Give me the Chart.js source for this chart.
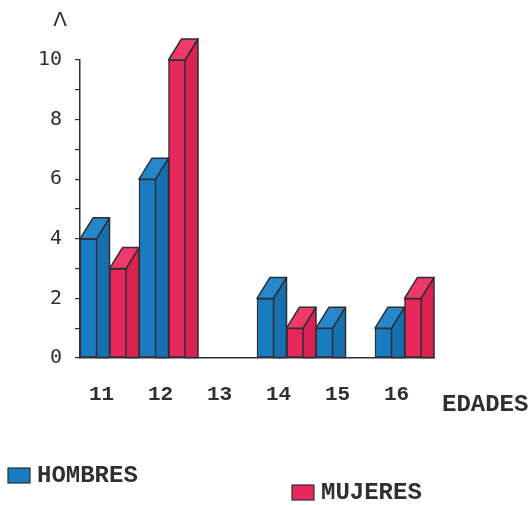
<!DOCTYPE html>
<html>
<head>
<meta charset="utf-8">
<script src="https://cdn.jsdelivr.net/npm/chart.js@4.4.1/dist/chart.umd.min.js"></script>
<style>
  html, body { margin: 0; padding: 0; background: #fff; }
  #wrap { width: 532px; height: 505px; }
</style>
</head>
<body>
<div id="wrap"><canvas id="c" width="532" height="505"></canvas></div>
<script>
// Ages on the horizontal axis and counts per sex
const edades = ['11', '12', '13', '14', '15', '16'];
const hombres = [4, 6, 0, 2, 1, 1];
const mujeres = [3, 10, 0, 1, 0, 2];
const yTickLabels = [0, 2, 4, 6, 8, 10];
const axisTitle = 'EDADES';
const yMark = 'Λ';

// Styling
const ink = '#2e2e34';
const palette = {
  HOMBRES: { front: '#1a7cc0', side: '#1670b0', top: '#2688cb' },
  MUJERES: { front: '#e8285c', side: '#da2252', top: '#ee3a6b' }
};
const depth = { dx: 13, dy: 21 };
const legendSpots = [ { x: 8, y: 468 }, { x: 292, y: 485 } ];
const typeFont = 'bold 24px "Liberation Mono"';

// Extrudes each bar into a box: side face on the right, lid on top
const box3d = {
  id: 'box3d',
  afterDatasetsDraw(chart) {
    const ctx = chart.ctx;
    chart.data.datasets.forEach((ds, di) => {
      const meta = chart.getDatasetMeta(di);
      const col = palette[ds.label];
      meta.data.forEach((bar, i) => {
        if (!ds.data[i]) return;
        const { x, y, base, width } = bar.getProps(['x', 'y', 'base', 'width'], true);
        const l = x - width / 2, r = x + width / 2;
        const fr = r - depth.dx, t = y - depth.dy;
        ctx.save();
        ctx.lineJoin = 'round';
        ctx.strokeStyle = ink;
        ctx.lineWidth = 1.5;
        ctx.beginPath();
        ctx.moveTo(fr, y); ctx.lineTo(r, t); ctx.lineTo(r, base); ctx.lineTo(fr, base);
        ctx.closePath();
        ctx.fillStyle = col.side; ctx.fill(); ctx.stroke();
        ctx.beginPath();
        ctx.moveTo(l, y); ctx.lineTo(l + depth.dx, t); ctx.lineTo(r, t); ctx.lineTo(fr, y);
        ctx.closePath();
        ctx.fillStyle = col.top; ctx.fill(); ctx.stroke();
        ctx.restore();
      });
    });
  }
};

// Axis captions and the two-entry key
const captions = {
  id: 'captions',
  afterDraw(chart) {
    const ctx = chart.ctx;
    const xs = chart.scales.x, ys = chart.scales.y;
    ctx.save();
    ctx.fillStyle = ink;
    ctx.textBaseline = 'middle';
    ctx.font = '20px "DejaVu Sans"';
    ctx.textAlign = 'center';
    ctx.fillText(yMark, ys.right - 20, ys.top - 39);
    ctx.font = typeFont;
    ctx.textAlign = 'left';
    ctx.fillText(axisTitle, xs.right + 8, xs.top + 47);
    chart.data.datasets.forEach((ds, di) => {
      const p = legendSpots[di];
      ctx.fillStyle = palette[ds.label].front;
      ctx.strokeStyle = ink;
      ctx.lineWidth = 1.2;
      ctx.fillRect(p.x, p.y, 22, 15);
      ctx.strokeRect(p.x, p.y, 22, 15);
      ctx.fillStyle = ink;
      ctx.fillText(ds.label, p.x + 29, p.y + 8);
    });
    ctx.restore();
  }
};

new Chart(document.getElementById('c'), {
  type: 'bar',
  data: {
    labels: edades,
    datasets: [
      { label: 'HOMBRES', data: hombres, backgroundColor: palette.HOMBRES.front,
        borderColor: ink, borderWidth: 1.5, borderSkipped: false, clip: false },
      { label: 'MUJERES', data: mujeres, backgroundColor: palette.MUJERES.front,
        borderColor: ink, borderWidth: 1.5, borderSkipped: false, clip: false }
    ]
  },
  options: {
    responsive: false,
    animation: false,
    devicePixelRatio: 1,
    layout: { padding: { top: 60, right: 98, bottom: 87, left: 0 } },
    datasets: { bar: { categoryPercentage: 1, barPercentage: 1 } },
    plugins: { legend: { display: false }, tooltip: { enabled: false } },
    scales: {
      x: {
        afterFit(s) { s.height = 60; },
        grid: { display: false, drawTicks: false },
        border: { display: true, color: ink, width: 1.5 },
        ticks: { padding: 24, labelOffset: -8, color: ink, maxRotation: 0, autoSkip: false,
                 font: { family: 'Liberation Mono', size: 21, weight: 'bold' } }
      },
      y: {
        min: 0, max: 10,
        afterFit(s) { s.width = 80; },
        grid: { drawOnChartArea: false, tickLength: 5, color: ink, lineWidth: 1.2 },
        border: { display: true, color: ink, width: 1.5 },
        ticks: { stepSize: 1, padding: 13, color: ink, autoSkip: false,
                 font: { family: 'DejaVu Sans Mono', size: 20 },
                 callback: v => yTickLabels.includes(v) ? String(v) : '' }
      }
    }
  },
  plugins: [box3d, captions]
});
</script>
</body>
</html>
